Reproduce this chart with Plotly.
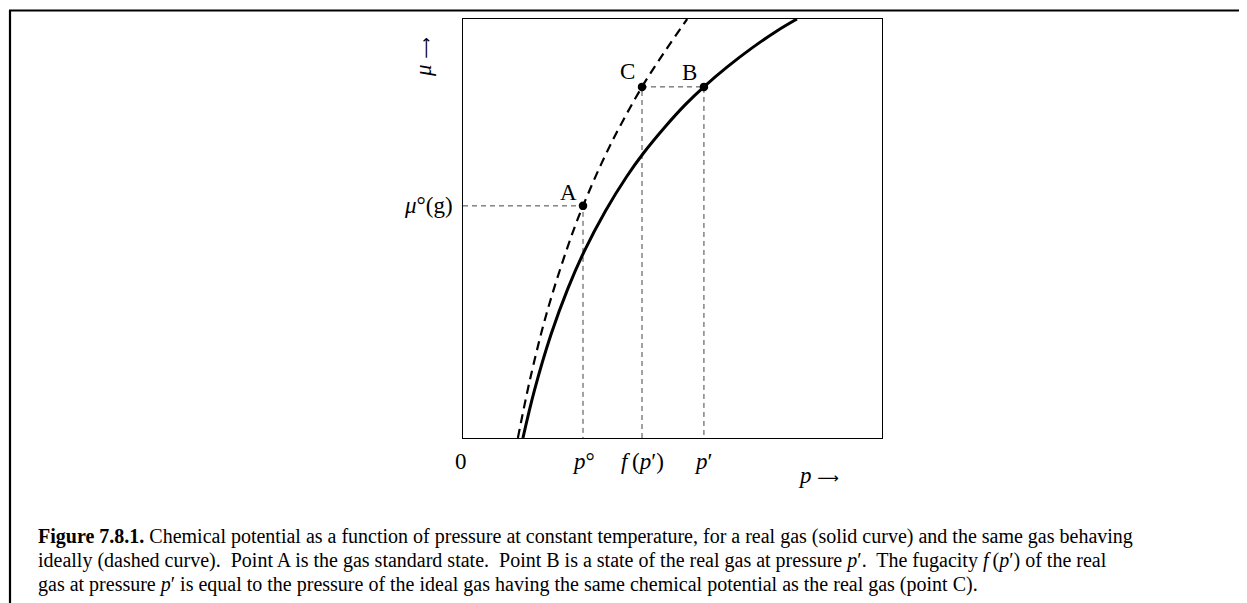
import plotly.graph_objects as go

# ---- data (axis units 0..1) ----
ideal_p = [0.131, 0.16, 0.20, 0.25, 0.2864, 0.35, 0.4272, 0.48, 0.535]
ideal_mu = [0.0, 0.140, 0.299, 0.457, 0.554, 0.696, 0.838, 0.920, 1.0]

real_p = [0.143, 0.17, 0.21, 0.25, 0.289, 0.34, 0.39, 0.43, 0.48, 0.53, 0.575, 0.63, 0.69, 0.75, 0.797]
real_mu = [0.0, 0.112, 0.247, 0.356, 0.445, 0.542, 0.623, 0.679, 0.740, 0.795, 0.838, 0.885, 0.931, 0.972, 1.0]

point_names = ["A", "C", "B"]
point_p = [0.2864, 0.4272, 0.575]
point_mu = [0.554, 0.838, 0.838]

tick_vals = [0.0, 0.2864, 0.4272, 0.575]
tick_text = ["0", "<i>p</i>°", "<i>f</i>\u2009(<i>p</i>′)", "<i>p</i>′"]

caption_lines = [
    "<b>Figure 7.8.1.</b> Chemical potential as a function of pressure at constant temperature, for a real gas (solid curve) and the same gas behaving",
    "ideally (dashed curve).  Point A is the gas standard state.  Point B is a state of the real gas at pressure <i>p</i>′.  The fugacity <i>f</i>\u2009(<i>p</i>′) of the real",
    "gas at pressure <i>p</i>′ is equal to the pressure of the ideal gas having the same chemical potential as the real gas (point C).",
]

# ---- layout geometry (pixels in the screenshot; page body has an 8px margin) ----
OFF = 8
W, H = 1247 - OFF, 603 - OFF
L, R, T, B = 463 - OFF, 882 - OFF, 19 - OFF, 438 - OFF
PW, PH = R - L, B - T

def px(x):
    return (x - OFF - L) / PW

def py(y):
    return (B - (y - OFF)) / PH

SERIF = "Liberation Serif, Times New Roman, serif"
LAB = 23
ARROW = '<span style="font-family:DejaVu Sans;font-size:15px">⟶</span>'
guide = dict(color="#444444", width=1, dash="5px,4px")

fig = go.Figure()

# guide lines
A_p, C_p, B_p = point_p
A_mu, C_mu, B_mu = point_mu
fig.add_trace(go.Scatter(x=[0, A_p, A_p], y=[A_mu, A_mu, 0], mode="lines", line=guide, hoverinfo="skip"))
fig.add_trace(go.Scatter(x=[C_p, C_p], y=[0, C_mu], mode="lines", line=guide, hoverinfo="skip"))
fig.add_trace(go.Scatter(x=[C_p, B_p, B_p], y=[C_mu, B_mu, 0], mode="lines", line=guide, hoverinfo="skip"))

# curves
fig.add_trace(go.Scatter(x=ideal_p, y=ideal_mu, mode="lines", line_shape="spline",
                         line=dict(color="black", width=2.2, dash="9px,6px")))
fig.add_trace(go.Scatter(x=real_p, y=real_mu, mode="lines", line_shape="spline",
                         line=dict(color="black", width=3)))

# points
fig.add_trace(go.Scatter(x=point_p, y=point_mu, mode="markers",
                         marker=dict(color="black", size=8.5)))

annotations = []
# point labels
label_offsets = {"A": (-15, -13), "C": (-15, -15), "B": (-14, -14)}
for n, xv, yv in zip(point_names, point_p, point_mu):
    dx, dy = label_offsets[n]
    annotations.append(dict(x=xv, y=yv, xref="x", yref="y", text=n, showarrow=False,
                            xanchor="center", yanchor="middle",
                            xshift=dx, yshift=-dy, font=dict(family=SERIF, size=LAB, color="black")))
# x tick labels
for v, t in zip(tick_vals, tick_text):
    annotations.append(dict(x=v, y=0, xref="x", yref="y", text=t, showarrow=False,
                            xanchor="center", yanchor="middle",
                            yshift=-23, xshift=-2 if v == 0 else 0,
                            font=dict(family=SERIF, size=LAB, color="black")))
# y label at A
annotations.append(dict(x=px(455), y=A_mu, xref="paper", yref="y", text="<i>μ</i>°(g)",
                        showarrow=False, xanchor="right", yanchor="middle",
                        font=dict(family=SERIF, size=LAB, color="black")))
# axis titles
annotations.append(dict(x=px(818), y=py(475), xref="paper", yref="paper", text="<i>p</i> " + ARROW,
                        showarrow=False, xanchor="center", yanchor="middle",
                        font=dict(family=SERIF, size=LAB, color="black")))
annotations.append(dict(x=px(423), y=py(57), xref="paper", yref="paper", text="<i>μ</i> " + ARROW,
                        showarrow=False, textangle=-90, xanchor="center", yanchor="middle",
                        font=dict(family=SERIF, size=LAB, color="black")))
# caption
for i, line in enumerate(caption_lines):
    annotations.append(dict(x=px(36), y=py(536 + 24 * i), xref="paper", yref="paper", text=line,
                            showarrow=False, xanchor="left", yanchor="middle",
                            font=dict(family=SERIF, size=20, color="black")))

shapes = [
    dict(type="line", xref="paper", yref="paper", x0=px(9), x1=px(1300), y0=py(10.5), y1=py(10.5),
         line=dict(color="black", width=2.2)),
    dict(type="line", xref="paper", yref="paper", x0=px(10), x1=px(10), y0=py(10.5), y1=py(650),
         line=dict(color="black", width=2.2)),
]

fig.update_layout(
    width=W, height=H,
    margin=dict(l=L, r=W - R, t=T, b=H - B, pad=0),
    paper_bgcolor="white", plot_bgcolor="white",
    showlegend=False,
    annotations=annotations, shapes=shapes,
    xaxis=dict(range=[0, 1], showgrid=False, zeroline=False, showticklabels=False, ticks="",
               showline=True, mirror=True, linecolor="black", linewidth=1.3),
    yaxis=dict(range=[0, 1], showgrid=False, zeroline=False, showticklabels=False, ticks="",
               showline=True, mirror=True, linecolor="black", linewidth=1.3),
)

fig.write_html("out.html", config={"displayModeBar": False})
